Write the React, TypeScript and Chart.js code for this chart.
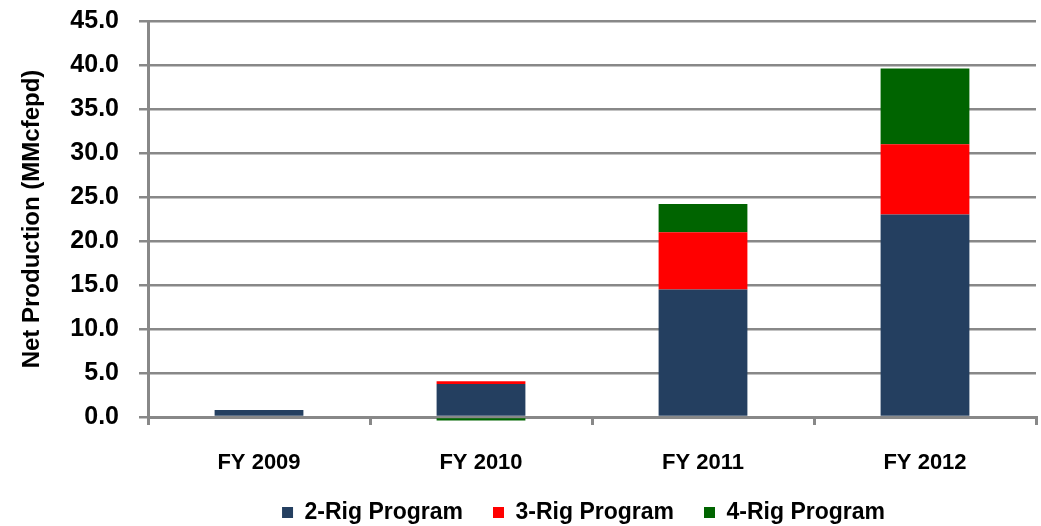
import React, { useEffect, useRef } from "react";
import { Chart, registerables } from "chart.js";

Chart.register(...registerables);

const categories = ["FY 2009", "FY 2010", "FY 2011", "FY 2012"];
const rig2 = [0.8, 3.75, 14.5, 23.0];
const rig3 = [0, 0.3, 6.5, 8.0];
const rig4 = [0, -0.4, 3.2, 8.6];
const seriesNames = ["2-Rig Program", "3-Rig Program", "4-Rig Program"];
const seriesColors = ["#243F60", "#FF0000", "#006400"];
const yTicks = [0, 5, 10, 15, 20, 25, 30, 35, 40, 45];

const LEGEND_HEIGHT = 55;

const legendFitPlugin = {
  id: "legendFit",
  beforeLayout(chart: any) {
    const lg = chart.legend;
    if (lg && !lg.__patched) {
      const orig = lg.fit.bind(lg);
      lg.fit = function () {
        orig();
        this.height = LEGEND_HEIGHT;
        if (this.lineWidths) this.lineWidths = this.lineWidths.map((w: number) => w + 17);
      };
      lg.__patched = true;
    }
  },
};

export default function App() {
  const ref = useRef<HTMLCanvasElement | null>(null);
  useEffect(() => {
    if (!ref.current) return;
    const font = "'Liberation Sans', Arial, sans-serif";
    const values = [rig2, rig3, rig4];
    const chart = new Chart(ref.current, {
      type: "bar",
      data: {
        labels: categories,
        datasets: values.map((v, i) => ({
          label: seriesNames[i],
          data: v,
          backgroundColor: seriesColors[i],
          borderWidth: 0,
          categoryPercentage: 1,
          barPercentage: 0.4,
          clip: false as any,
        })),
      },
      plugins: [legendFitPlugin],
      options: {
        animation: false,
        responsive: false,
        maintainAspectRatio: false,
        layout: { padding: { left: 0, right: 5, top: 21, bottom: 0 } },
        plugins: {
          tooltip: { enabled: false },
          legend: {
            position: "bottom",
            fullSize: false,
            labels: {
              font: { family: font, size: 23, weight: "bold" },
              color: "#000",
              boxWidth: 11,
              boxHeight: 11,
              padding: 30,
            },
          },
        },
        scales: {
          x: {
            stacked: true,
            grid: {
              display: true,
              drawOnChartArea: false,
              offset: true,
              color: "#888",
              lineWidth: 3,
              tickLength: 8,
            },
            border: { display: true, color: "#888", width: 3 },
            ticks: {
              font: { family: font, size: 22, weight: "bold" },
              color: "#000",
              padding: 25,
            },
            afterFit: (s: any) => {
              s.height = 54;
              s.paddingLeft = 0;
              s.paddingRight = 0;
            },
          },
          y: {
            stacked: true,
            min: 0,
            max: 45,
            afterBuildTicks: (s: any) => {
              s.ticks = yTicks.map((v) => ({ value: v }));
            },
            ticks: {
              font: { family: font, size: 25, weight: "bold" },
              color: "#000",
              padding: 20,
              callback: (v: any) => Number(v).toFixed(1),
            },
            grid: { color: "#888", lineWidth: 2.5, tickLength: 9 },
            border: { display: true, color: "#888", width: 3 },
            title: {
              display: true,
              text: "Net Production (MMcfepd)",
              font: { family: font, size: 24, weight: "bold" },
              color: "#000",
              padding: { top: 18, bottom: 0 },
            },
            afterFit: (s: any) => {
              s.width = 148;
              s.paddingTop = 0;
              s.paddingBottom = 0;
            },
          },
        },
      },
    });
    return () => chart.destroy();
  }, []);
  return (
    <div style={{ position: "fixed", left: 0, top: 0, width: 1041, height: 526, background: "#fff" }}>
      <canvas ref={ref} width={1041} height={526} style={{ width: 1041, height: 526 }} />
    </div>
  );
}
